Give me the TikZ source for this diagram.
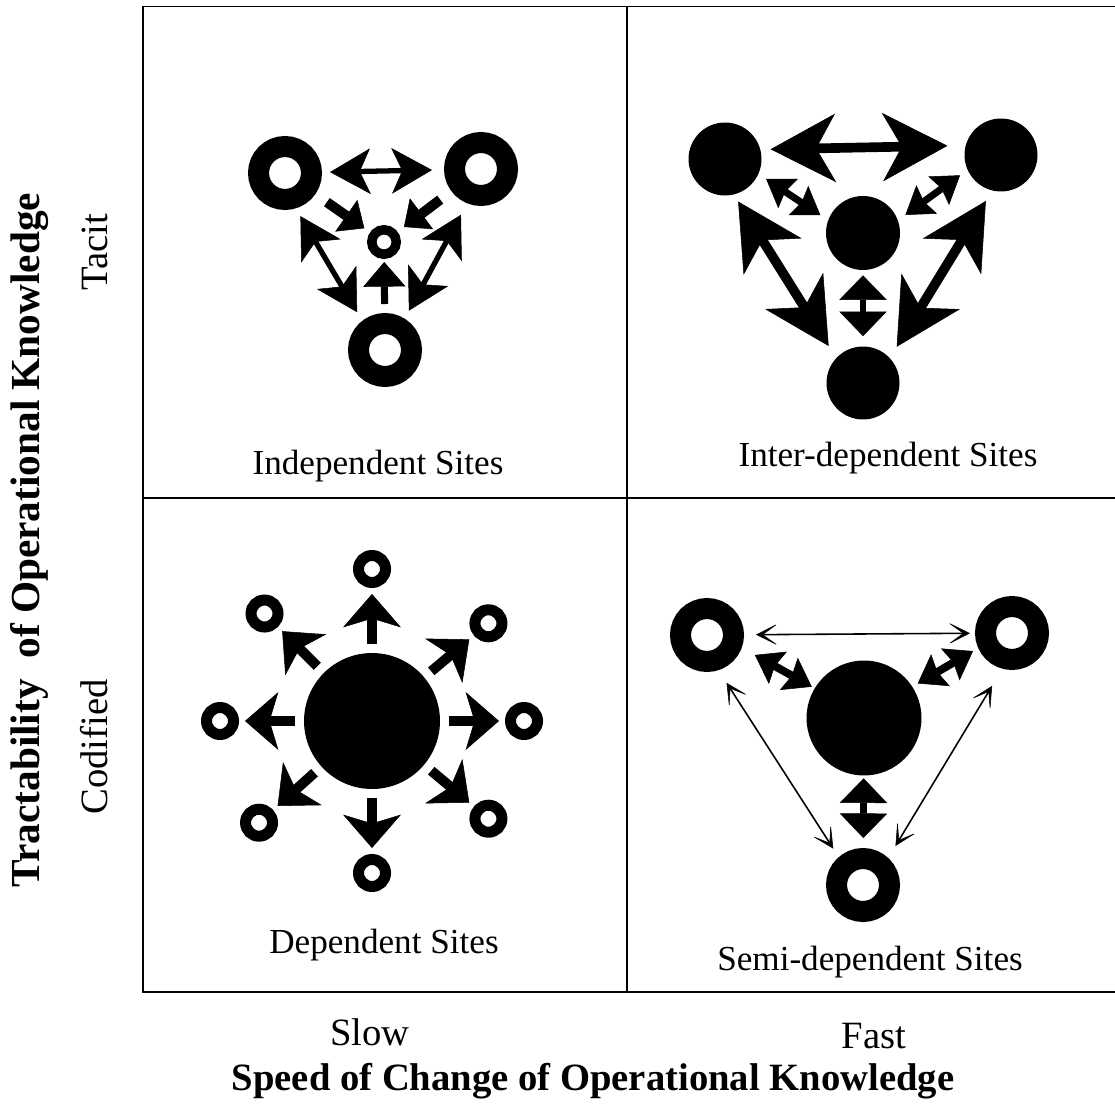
\documentclass[tikz,border=0pt]{standalone}
\usepackage{fontspec}
\setmainfont{Liberation Serif}
\usetikzlibrary{arrows.meta,calc}

\begin{document}
\begin{tikzpicture}[x=0.02cm,y=0.02cm,
  quad/.style={line width=1.1pt},
  ring/.style={circle,draw,line width=0.42cm,minimum size=1.06cm,inner sep=0pt},
  pin/.style={circle,draw,line width=0.19cm,minimum size=0.49cm,inner sep=0pt},
  sring/.style={circle,draw,line width=0.22cm,minimum size=0.54cm,inner sep=0pt},
  disk/.style={circle,fill,minimum size=#1,inner sep=0pt},
  lbl/.style={font=\fontsize{20}{24}\selectfont,anchor=base},
  axis/.style={font=\fontsize{22}{26}\selectfont,anchor=base},
  tlpair/.style={line width=3pt,>={Stealth[length=23pt,width=26pt,inset=6pt,line width=0.3pt]},<->},
  tlpush/.style={line width=5.7pt,>={Triangle[length=12.5pt,width=22pt,line width=0.3pt]},->},
  tlup/.style={line width=4pt,>={Triangle[length=14pt,width=24pt,line width=0.3pt]},->},
  trbig/.style={line width=5.5pt,>={Stealth[length=37pt,width=39pt,inset=11pt,line width=0.3pt]},<->},
  trsmall/.style={line width=4pt,>={Stealth[length=15pt,width=20pt,inset=2pt,line width=0.3pt]},<->},
  vpair/.style={line width=3.8pt,>={Triangle[length=14pt,width=27pt,line width=0.3pt]},<->},
  spoke/.style={line width=5.7pt,>={Stealth[length=19pt,width=33pt,inset=5pt,line width=0.3pt]},->},
  slim/.style={line width=0.9pt,>={Stealth[length=13pt,width=13pt,inset=9pt,line width=0.3pt]},<->},
  brsmall/.style={line width=4.5pt,>={Stealth[length=15pt,width=21pt,inset=2pt,line width=0.3pt]},<->}]
  \useasboundingbox (0,0) rectangle (1115,1110);

  % the four quadrants
  \draw[quad] (1115,1103.5) -| (143,118) -- (1115,118);
  \draw[quad] (627,118) -- (627,1103.5);
  \draw[quad] (143,612) -- (1115,612);

  % independent sites
  \node[ring] (tlA) at (285,937) {};
  \node[ring] (tlB) at (481,941) {};
  \node[ring] (tlC) at (385,760) {};
  \node[pin] (tlD) at (384,868) {};
  \draw[tlpair,shorten <=0.16cm,shorten >=0.24cm] (tlA) -- (tlB);
  \draw[tlpair,shorten <=0.18cm,shorten >=0.2cm] (tlA.-73) -- (tlC.128);
  \draw[tlpair,shorten <=0.26cm,shorten >=0.18cm] (tlB.-112) -- (tlC.58);
  \draw[tlpush,shorten <=0.28cm,shorten >=0.14cm] (tlA) -- (tlD);
  \draw[tlpush,shorten <=0.28cm,shorten >=0.16cm] (tlB) -- (tlD);
  \draw[tlup,shorten <=0.18cm,shorten >=0.06cm] (tlC) -- (tlD);
  \node[lbl] (tllabel) at (378,635) {Independent Sites};

  % inter-dependent sites
  \node[disk=1.46cm] (trP) at (725,951) {};
  \node[disk=1.46cm] (trQ) at (1001,955) {};
  \node[disk=1.48cm] (trR) at (863,877) {};
  \node[disk=1.46cm] (trS) at (863,727) {};
  \draw[trbig,shorten <=0.2cm,shorten >=0.36cm] (trP.15) -- (trQ.165);
  \draw[trbig,shorten <=0.16cm,shorten >=0.28cm] (trP.-76) -- (trS.137);
  \draw[trbig,shorten <=0.24cm,shorten >=0.26cm] (trQ.-104) -- (trS.43);
  \draw[trsmall,shorten <=0.18cm,shorten >=0.18cm] (trP.-24) -- (trR.160);
  \draw[trsmall,shorten <=0.18cm,shorten >=0.18cm] (trQ.-156) -- (trR.20);
  \draw[vpair,shorten <=0.1cm,shorten >=0.2cm] (trR) -- (trS);
  \node[lbl] (trlabel) at (888,643) {Inter-dependent Sites};

  % dependent sites
  \node[disk=2.72cm] (hub) at (372,389) {};
  \foreach \a [count=\i] in {90,40,0,-40,-90,-138,180,135} {
    \node[sring] (site\i) at ($(hub)+(\a:152)$) {};
    \draw[spoke,shorten <=0.18cm,shorten >=0.12cm] (hub) -- (site\i);
  }
  \node[lbl] (bllabel) at (384,157) {Dependent Sites};

  % semi-dependent sites
  \node[ring] (brU) at (707,475) {};
  \node[ring] (brV) at (1012,477) {};
  \node[disk=2.3cm] (brW) at (864,392) {};
  \node[ring] (brX) at (863,225) {};
  \draw[slim,shorten <=0.24cm,shorten >=0.1cm] (brU) -- (brV);
  \draw[slim,shorten <=0.3cm,shorten >=0.2cm] (brU.-72) -- (brX.131);
  \draw[slim,shorten <=0.4cm,shorten >=0.28cm] (brV.-105) -- (brX.47);
  \draw[brsmall,shorten <=0.3cm,shorten >=0.06cm] (brU.-20) -- (brW.149);
  \draw[brsmall,shorten <=0.12cm,shorten >=0.12cm] (brV.-156) -- (brW.33);
  \draw[vpair,shorten <=0.05cm,shorten >=0.2cm] (brW) -- (brX);
  \node[lbl] (brlabel) at (870,140) {Semi-dependent Sites};

  % axes
  \node[axis] (slow) at (370,65) {Slow};
  \node[axis] (fast) at (874,62) {Fast};
  \node[axis] (xtitle) at (593,20) {\bfseries Speed of Change of Operational Knowledge};
  \node[axis,rotate=90] (tacit) at (107,858) {Tacit};
  \node[axis,rotate=90] (codified) at (107,363) {Codified};
  \node[axis,rotate=90,font=\fontsize{23.5}{28}\selectfont] (ytitle) at (39,570)
    {\bfseries Tractability\ \ of Operational Knowledge};
\end{tikzpicture}
\end{document}
